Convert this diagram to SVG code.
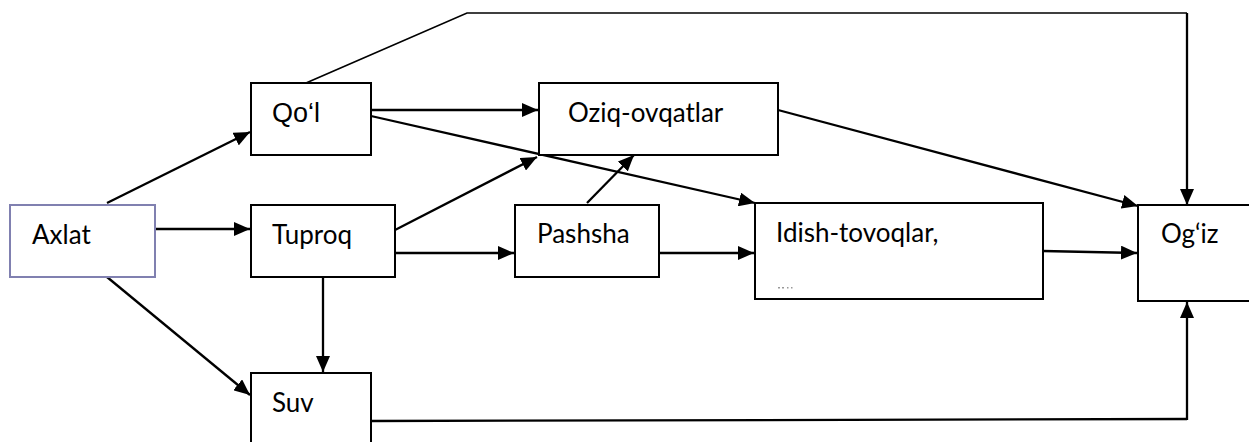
<svg xmlns="http://www.w3.org/2000/svg" width="1249" height="442" viewBox="0 0 1249 442">
<style>
.box{fill:#fff;stroke:#000;stroke-width:2}
.purple{fill:#fff;stroke:#8080b0;stroke-width:2}
.t{font-family:Lato,"Open Sans",sans-serif;font-size:26px;fill:#000}
.ta{font-family:"Liberation Sans",Arial,sans-serif;font-size:27px;fill:#000}
.c{fill:none;stroke:#000;stroke-width:2.3}
.thin{fill:none;stroke:#000;stroke-width:1.7}
.ca{fill:none;stroke:#000;stroke-width:2.3;marker-end:url(#ah)}
</style>
<defs>
<marker id="ah" markerUnits="userSpaceOnUse" markerWidth="16" markerHeight="14" refX="16" refY="7" orient="auto">
<path d="M0,0 L16,7 L0,14 z" fill="#000"/>
</marker>
</defs>
<g id="connectors">
<polyline class="thin" points="306,83 467,13 1187,13"/>
<line class="ca" x1="1187" y1="13" x2="1187" y2="205"/>
<line class="ca" x1="107" y1="203" x2="250" y2="132"/>
<line class="ca" x1="155" y1="229" x2="250" y2="229"/>
<line class="ca" x1="107" y1="277" x2="250" y2="395"/>
<line class="ca" x1="371" y1="110" x2="538" y2="110"/>
<line class="ca" x1="371" y1="116" x2="755" y2="203"/>
<line class="ca" x1="395" y1="230" x2="537" y2="157"/>
<line class="ca" x1="395" y1="253" x2="514" y2="253"/>
<line class="ca" x1="323" y1="277" x2="323" y2="372"/>
<line class="ca" x1="587" y1="203" x2="634" y2="155"/>
<line class="ca" x1="659" y1="253" x2="754" y2="253"/>
<line class="ca" x1="778" y1="110" x2="1138" y2="206"/>
<line class="ca" x1="1043" y1="251" x2="1137" y2="253"/>
<polyline class="c" points="371,421 1187,419"/>
<line class="ca" x1="1187" y1="420" x2="1187" y2="302"/>
</g>
<g id="node-axlat"><rect class="purple" x="10" y="205" width="145" height="72"/><text class="t" x="32" y="244">Axlat</text></g>
<g id="node-qol"><rect class="box" x="251" y="83" width="120" height="72"/><text class="ta" x="272" y="122">Qo‘l</text></g>
<g id="node-tuproq"><rect class="box" x="251" y="205" width="144" height="72"/><text class="t" x="272" y="244">Tuproq</text></g>
<g id="node-suv"><rect class="box" x="251" y="373" width="120" height="75"/><text class="t" x="272" y="412">Suv</text></g>
<g id="node-oziq"><rect class="box" x="539" y="83" width="239" height="72"/><text class="t" x="568" y="122">Oziq-ovqatlar</text></g>
<g id="node-pashsha"><rect class="box" x="515" y="205" width="144" height="72"/><text class="t" x="537" y="243">Pashsha</text></g>
<g id="node-idish"><rect class="box" x="755" y="203" width="288" height="96"/><text class="t" x="776" y="242">Idish-tovoqlar,</text>
<g fill="#999"><rect x="778" y="287" width="2" height="1.5"/><rect x="782" y="287" width="2" height="1.5"/><rect x="787" y="287" width="1.5" height="1.5"/><rect x="791" y="287" width="1.5" height="1.5"/></g></g>
<g id="node-ogiz"><rect class="box" x="1138" y="205" width="114" height="96"/><text class="t" x="1161" y="243">Og‘iz</text></g>
</svg>
